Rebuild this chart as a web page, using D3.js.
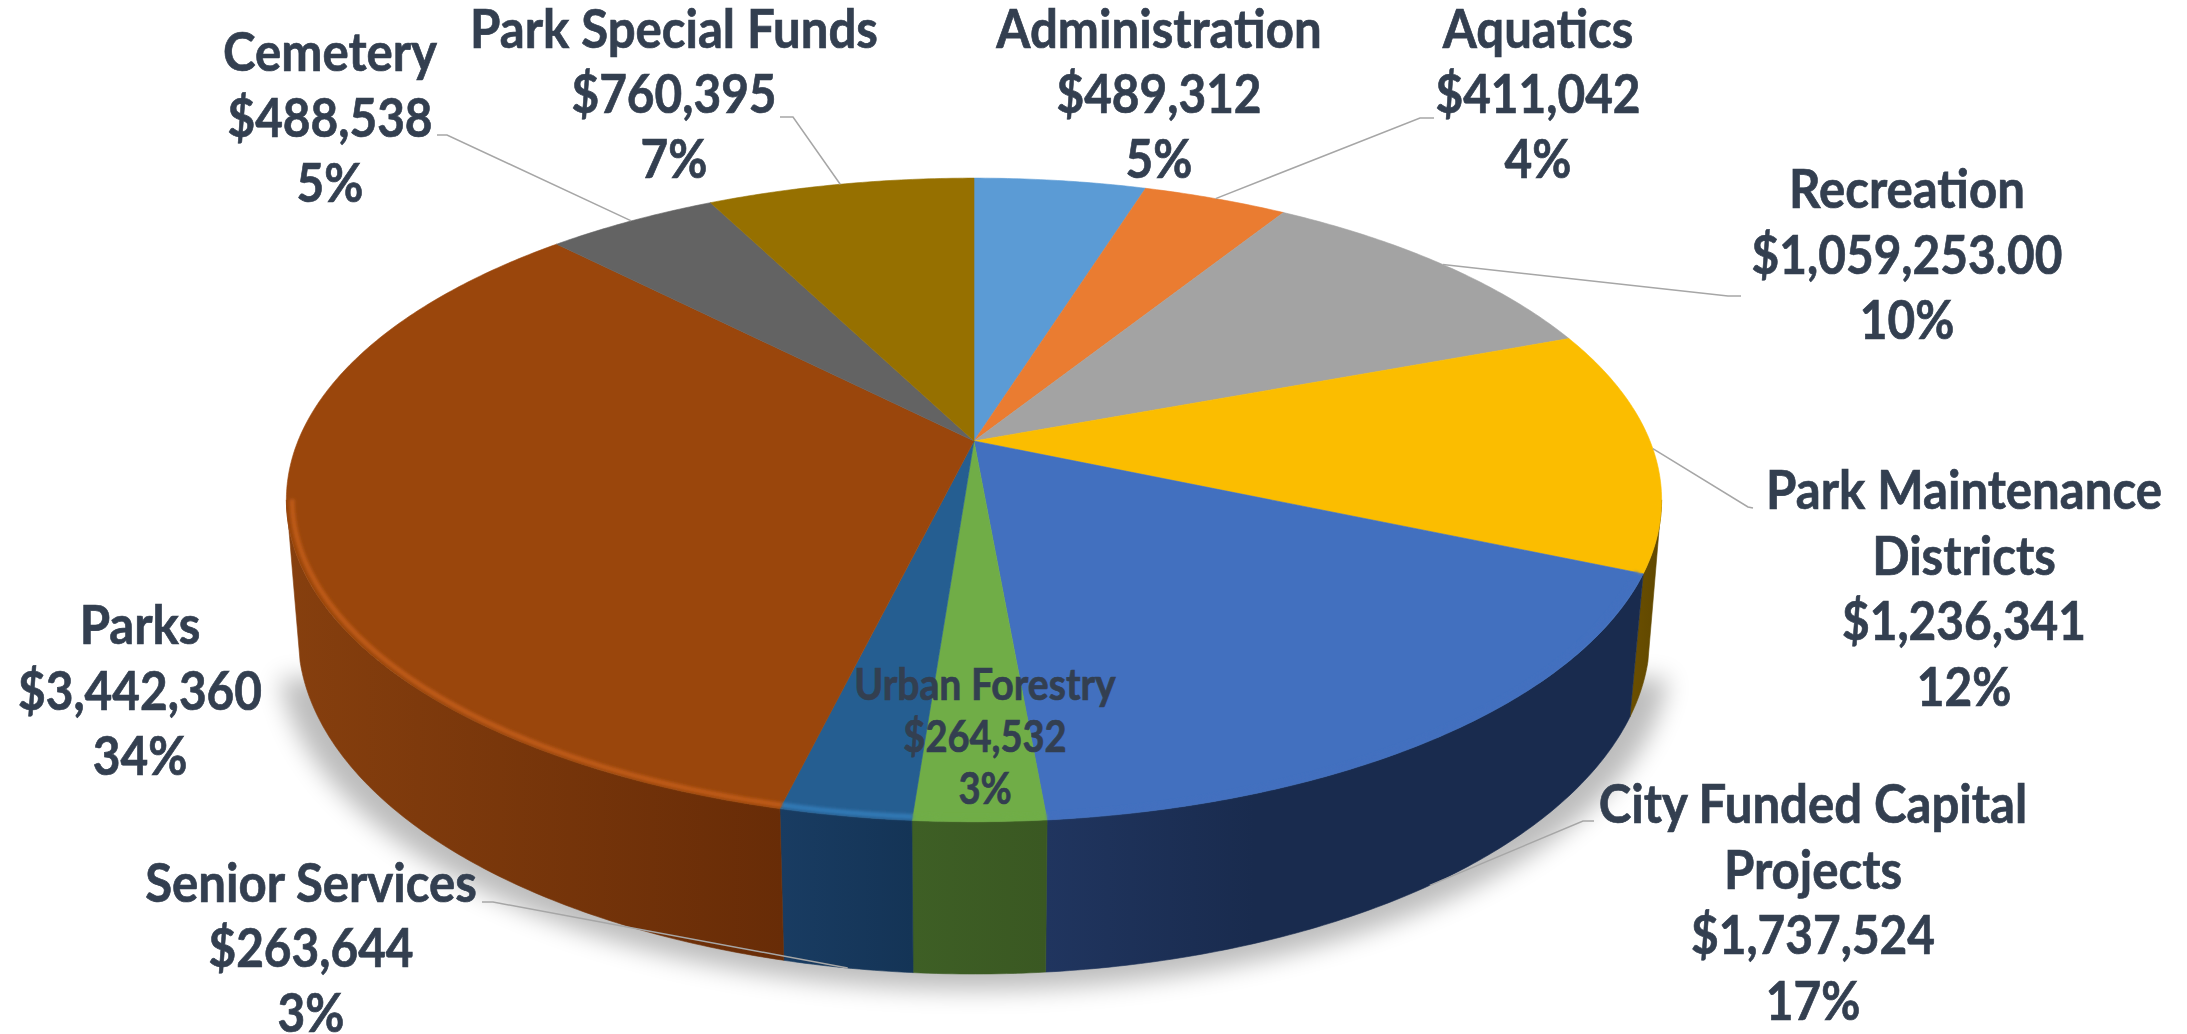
<!DOCTYPE html>
<html>
<head>
<meta charset="utf-8">
<script src="https://cdn.jsdelivr.net/npm/d3@7"></script>
<style>
  html, body { margin: 0; padding: 0; background: #fff; }
  svg { display: block; }
  text { font-family: Lato, "Open Sans", sans-serif; font-weight: 700; fill: #333f50; stroke: #333f50; stroke-width: 0.7; }
</style>
</head>
<body>
<script>
// data, clockwise from 12 o'clock
var names = ["Administration", "Aquatics", "Recreation", "Park Maintenance Districts", "City Funded Capital Projects",
             "Urban Forestry", "Senior Services", "Parks", "Cemetery", "Park Special Funds"];
var amounts = [489312, 411042, 1059253, 1236341, 1737524, 264532, 263644, 3442360, 488538, 760395];

var topColors = ["#5b9bd5", "#ea7c31", "#a3a3a3", "#fbbd00", "#4270bf", "#70ad47", "#255e91", "#9a460c", "#636363", "#967000"];
var rimColors = ["#5b9bd5", "#ea7c31", "#a3a3a3", "#fbbd00", "#4270bf", "#70ad47", "#3279b5", "#bd5a16", "#636363", "#967000"];
var wallLeft  = ["#333", "#333", "#333", "#6b4f00", "#20355f", "#3e5f25", "#193c62", "#863f0e", "#333", "#333"];
var wallRight = ["#333", "#333", "#333", "#5f4700", "#192b4e", "#3a5822", "#143456", "#682c07", "#333", "#333"];

// label layout: name lines, centre x, baseline of first line, line step, font size, x squeeze
var labelLines = [["Administration"], ["Aquatics"], ["Recreation"], ["Park Maintenance", "Districts"], ["City Funded Capital", "Projects"],
                  ["Urban Forestry"], ["Senior Services"], ["Parks"], ["Cemetery"], ["Park Special Funds"]];
var labelX = [1159, 1538, 1907, 1964, 1813, 985, 311, 140, 330, 674];
var labelY = [48, 48, 208, 509, 823, 700, 902, 644, 71, 48];
var labelStep = [65, 65, 65.5, 65.5, 65.5, 52, 65, 65.5, 65.5, 65];
var labelSize = [54, 54, 54, 54, 54, 43, 54, 54, 54, 54];
var nameSqueeze = 0.91, moneySqueeze = 0.885;

// leader elbows next to the text, null where the chart has no leader
var leaderElbows = [
  null,
  [[1434, 118], [1420, 118]],
  [[1741, 296], [1728, 296]],
  [[1753, 508], [1748, 507]],
  [[1594, 821], [1583, 821]],
  null,
  [[482, 902], [493, 902]],
  null,
  [[437, 135], [447, 135]],
  [[780, 117], [793, 117]]
];

var width = 2187, height = 1034;

// perspective of the pie disc
var cx = 974, cy = 441, radX = 676, radY = 311, persp = 0.183;
// bottom ring of the wall
var ringTop = 635, ringRx = 676, ringRy = 339, ringShrink = 0.98;

function topPoint(t, r) {
  r = r === undefined ? 1 : r;
  var w = 1 + persp * r * Math.cos(t);
  return [cx + radX * r * Math.sin(t) / w, cy - radY * r * Math.cos(t) / w];
}
function bottomPoint(t) {
  var dx = (topPoint(t)[0] - cx) * ringShrink;
  return [cx + dx, ringTop + ringRy * Math.sqrt(Math.max(0, 1 - (dx / ringRx) * (dx / ringRx)))];
}
function sweep(a0, a1) {
  var n = Math.max(2, Math.ceil((a1 - a0) / 0.01));
  return d3.range(n + 1).map(function(i) { return a0 + (a1 - a0) * i / n; });
}

var svg = d3.select("body").append("svg").attr("width", width).attr("height", height);
var defs = svg.append("defs");
defs.append("filter").attr("id", "soft").attr("x", "-10%").attr("y", "-10%").attr("width", "120%").attr("height", "120%")
  .append("feGaussianBlur").attr("stdDeviation", 12);
defs.append("filter").attr("id", "rim").attr("filterUnits", "userSpaceOnUse")
  .attr("x", 0).attr("y", 0).attr("width", width).attr("height", height)
  .append("feGaussianBlur").attr("stdDeviation", 1.4);

var line = d3.line();
var arcs = d3.pie().sort(null).value(function(d) { return d; })(amounts);

// the wall is only seen from the widest point of the disc round the front
var frontStart = Math.acos(-persp), frontEnd = 2 * Math.PI - frontStart;

// soft shadow under the wall
var front = sweep(frontStart, frontEnd);
svg.append("path")
  .attr("d", line(front.map(function(t) { return bottomPoint(t); }).map(function(p) { return [cx + (p[0] - cx) * 1.03, p[1] + 16]; })) + "Z")
  .attr("fill", "#000").attr("opacity", 0.26).attr("filter", "url(#soft)");

// walls
arcs.forEach(function(d, i) {
  var a0 = Math.max(d.startAngle, frontStart), a1 = Math.min(d.endAngle, frontEnd);
  if (a1 <= a0) return;
  var ts = sweep(a0, a1);
  var pts = ts.map(function(t) { return topPoint(t); })
    .concat(ts.slice().reverse().map(function(t) { return bottomPoint(t); }));
  var xs = pts.map(function(p) { return p[0]; });
  var grad = defs.append("linearGradient").attr("id", "wall" + i).attr("gradientUnits", "userSpaceOnUse")
    .attr("x1", d3.min(xs)).attr("x2", d3.max(xs)).attr("y1", 0).attr("y2", 0);
  grad.append("stop").attr("offset", 0).attr("stop-color", wallLeft[i]);
  grad.append("stop").attr("offset", i == 4 ? 0.35 : 1).attr("stop-color", wallRight[i]);
  svg.append("path").attr("d", line(pts) + "Z")
    .attr("fill", "url(#wall" + i + ")").attr("stroke", "url(#wall" + i + ")").attr("stroke-width", 0.6);
});

// top face
svg.append("g").selectAll("path")
  .data(arcs)
  .enter()
  .append("path")
  .attr("d", function(d) { return line([[cx, cy]].concat(sweep(d.startAngle, d.endAngle).map(function(t) { return topPoint(t); }))) + "Z"; })
  .attr("fill", function(d, i) { return topColors[i]; })
  .attr("stroke", function(d, i) { return topColors[i]; })
  .attr("stroke-width", 0.6);

// bevel along the front edge of the disc
arcs.forEach(function(d, i) {
  var a0 = Math.max(d.startAngle, frontStart), a1 = Math.min(d.endAngle, frontEnd);
  if (a1 <= a0) return;
  svg.append("path")
    .attr("d", line(sweep(a0, a1).map(function(t) { return topPoint(t, 0.992); })))
    .attr("fill", "none").attr("stroke", rimColors[i]).attr("stroke-width", 5)
    .attr("filter", "url(#rim)");
});

// leaders
arcs.forEach(function(d, i) {
  if (!leaderElbows[i]) return;
  var mid = (d.startAngle + d.endAngle) / 2;
  var onWall = mid > 2.4 && mid < 3.7;
  var end = onWall ? bottomPoint(mid) : topPoint(mid);
  svg.append("path").attr("d", line(leaderElbows[i].concat([end])))
    .attr("fill", "none").attr("stroke", "#a6a6a6").attr("stroke-width", 1.5);
});

// labels
var total = d3.sum(amounts);
var fmtMoney = d3.format("$,"), fmtCents = d3.format("$,.2f"), fmtPct = d3.format(".0%");
names.forEach(function(name, i) {
  var money = name == "Recreation" ? fmtCents(amounts[i]) : fmtMoney(amounts[i]);
  var lines = labelLines[i].concat([money, fmtPct(amounts[i] / total)]);
  lines.forEach(function(t, j) {
    var sx = j < labelLines[i].length ? nameSqueeze : moneySqueeze;
    svg.append("text")
      .attr("transform", "translate(" + labelX[i] + "," + (labelY[i] + j * labelStep[i]) + ") scale(" + sx + ",1)")
      .attr("text-anchor", "middle")
      .attr("font-size", labelSize[i])
      .text(t);
  });
});
</script>
</body>
</html>
